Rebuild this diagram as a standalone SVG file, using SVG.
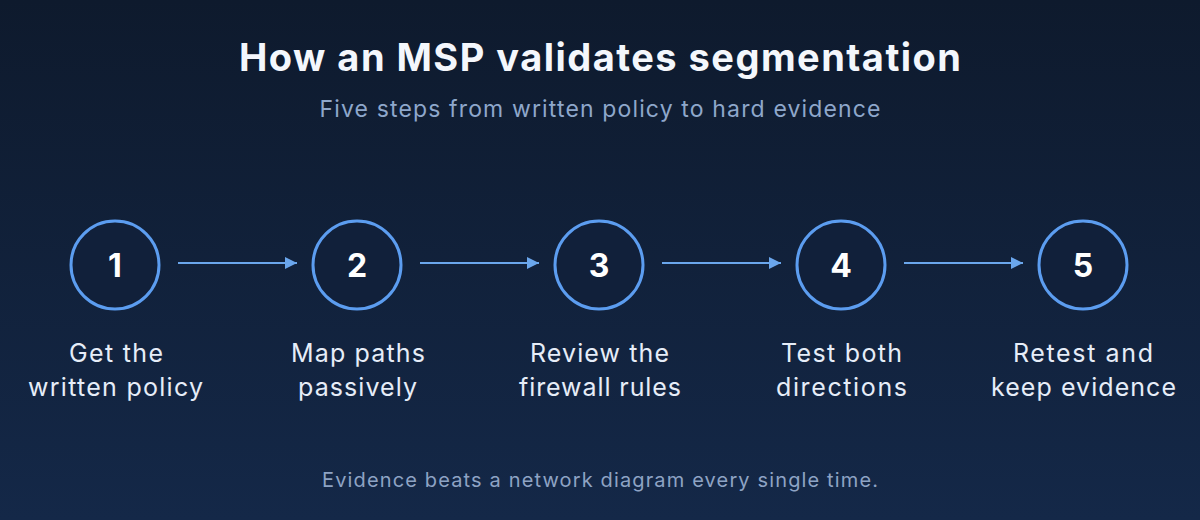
<svg xmlns="http://www.w3.org/2000/svg" width="1200" height="520" viewBox="0 0 1200 520">
<defs>
<linearGradient id="bg" x1="0" y1="0" x2="0" y2="1">
<stop offset="0" stop-color="#0e1a2d"/>
<stop offset="1" stop-color="#142848"/>
</linearGradient>
<marker id="ah" viewBox="0 0 10 10" refX="10" refY="5" markerWidth="12" markerHeight="12" markerUnits="userSpaceOnUse" orient="auto">
<path d="M0,0 L10,5 L0,10 z" fill="#6aa6ec"/>
</marker>
<style>
.title{font-family:Inter,"Liberation Sans",sans-serif;font-weight:700;font-size:38px;fill:#f4f7fc;text-anchor:middle}
.sub{font-family:Inter,"Liberation Sans",sans-serif;font-size:23px;fill:#8ea7cb;text-anchor:middle}
.num{font-family:Inter,"Liberation Sans",sans-serif;font-weight:700;font-size:32px;fill:#ffffff;text-anchor:middle}
.lbl{font-family:Inter,"Liberation Sans",sans-serif;font-size:25px;fill:#e6edf8;text-anchor:middle}
.foot{font-family:Inter,"Liberation Sans",sans-serif;font-size:20px;fill:#8ea3c4;text-anchor:middle}
.ring{fill:#11203a;stroke:#5c9df0;stroke-width:3}
.conn{stroke:#6aa6ec;stroke-width:2;fill:none}
</style>
</defs>
<rect width="1200" height="520" fill="url(#bg)"/>
<text class="title" x="600" y="71" textLength="722" lengthAdjust="spacing">How an MSP validates segmentation</text>
<text class="sub" x="600" y="117" textLength="561" lengthAdjust="spacing">Five steps from written policy to hard evidence</text>
<g id="connectors">
<line class="conn" x1="178" y1="263" x2="297" y2="263" marker-end="url(#ah)"/>
<line class="conn" x1="420" y1="263" x2="539" y2="263" marker-end="url(#ah)"/>
<line class="conn" x1="662" y1="263" x2="781" y2="263" marker-end="url(#ah)"/>
<line class="conn" x1="904" y1="263" x2="1023" y2="263" marker-end="url(#ah)"/>
</g>
<g id="step1">
<circle class="ring" cx="115" cy="265" r="44"/>
<text class="num" x="115" y="277">1</text>
<text class="lbl" x="116" y="362" textLength="94" lengthAdjust="spacing">Get the</text>
<text class="lbl" x="115.5" y="396" textLength="175" lengthAdjust="spacing">written policy</text>
</g>
<g id="step2">
<circle class="ring" cx="357" cy="265" r="44"/>
<text class="num" x="357" y="277">2</text>
<text class="lbl" x="358" y="362" textLength="134" lengthAdjust="spacing">Map paths</text>
<text class="lbl" x="357.5" y="396" textLength="119" lengthAdjust="spacing">passively</text>
</g>
<g id="step3">
<circle class="ring" cx="599" cy="265" r="44"/>
<text class="num" x="599" y="277">3</text>
<text class="lbl" x="599.5" y="362" textLength="139" lengthAdjust="spacing">Review the</text>
<text class="lbl" x="600" y="396" textLength="162" lengthAdjust="spacing">firewall rules</text>
</g>
<g id="step4">
<circle class="ring" cx="841" cy="265" r="44"/>
<text class="num" x="841" y="277">4</text>
<text class="lbl" x="841.5" y="362" textLength="121" lengthAdjust="spacing">Test both</text>
<text class="lbl" x="841.5" y="396" textLength="131" lengthAdjust="spacing">directions</text>
</g>
<g id="step5">
<circle class="ring" cx="1083" cy="265" r="44"/>
<text class="num" x="1083" y="277">5</text>
<text class="lbl" x="1083" y="362" textLength="140" lengthAdjust="spacing">Retest and</text>
<text class="lbl" x="1083.5" y="396" textLength="185" lengthAdjust="spacing">keep evidence</text>
</g>
<text class="foot" x="600" y="487" textLength="556" lengthAdjust="spacing">Evidence beats a network diagram every single time.</text>
</svg>
